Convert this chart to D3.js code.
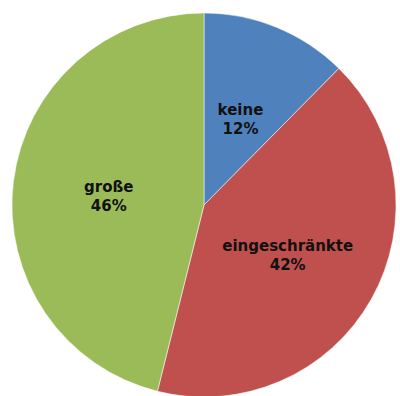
<!DOCTYPE html>
<html>
<head>
<meta charset="utf-8">
<script src="https://cdn.jsdelivr.net/npm/d3@7"></script>
<style>
  body { margin: 0; background: #fff; }
  svg { display: block; }
</style>
</head>
<body>
<div id="chart"></div>
<script>
"use strict"

// values (slices as drawn, labels rounded)
var categories = ["keine", "eingeschränkte", "große"];
var values = [12.4, 41.5, 46.1];
var colors = ["#4F81BD", "#C0504D", "#9BBB59"];

var width = 400;
var height = 396;
var cx = 204;
var cy = 205;
var radius = 192;

var svg = d3.select("#chart").append("svg")
    .attr("width", width)
    .attr("height", height);

var g = svg.append("g")
    .attr("transform", "translate(" + cx + "," + cy + ")");

var pie = d3.pie().sort(null).value(function(d) { return d; });
var arcs = pie(values);
var total = d3.sum(values);

var arc = d3.arc().innerRadius(0).outerRadius(radius);

g.selectAll("path.slice")
  .data(arcs)
  .enter().append("path")
    .attr("class", "slice")
    .attr("d", arc)
    .attr("fill", function(d, i) { return colors[i]; })
    .attr("stroke", "#fff")
    .attr("stroke-width", 0.5);

var labels = g.selectAll("text.label")
  .data(arcs)
  .enter().append("text")
    .attr("class", "label")
    .attr("transform", function(d) { return "translate(" + arc.centroid(d) + ")"; })
    .attr("text-anchor", "middle")
    .style("font-family", "'DejaVu Sans', Verdana, sans-serif")
    .style("font-weight", "bold")
    .style("font-size", "15px")
    .attr("fill", "#111");

labels.append("tspan")
    .attr("x", 0)
    .attr("y", -1)
    .text(function(d, i) { return categories[i]; });

labels.append("tspan")
    .attr("x", 0)
    .attr("y", 18)
    .text(function(d) { return Math.round(d.value / total * 100) + "%"; });
</script>
</body>
</html>
